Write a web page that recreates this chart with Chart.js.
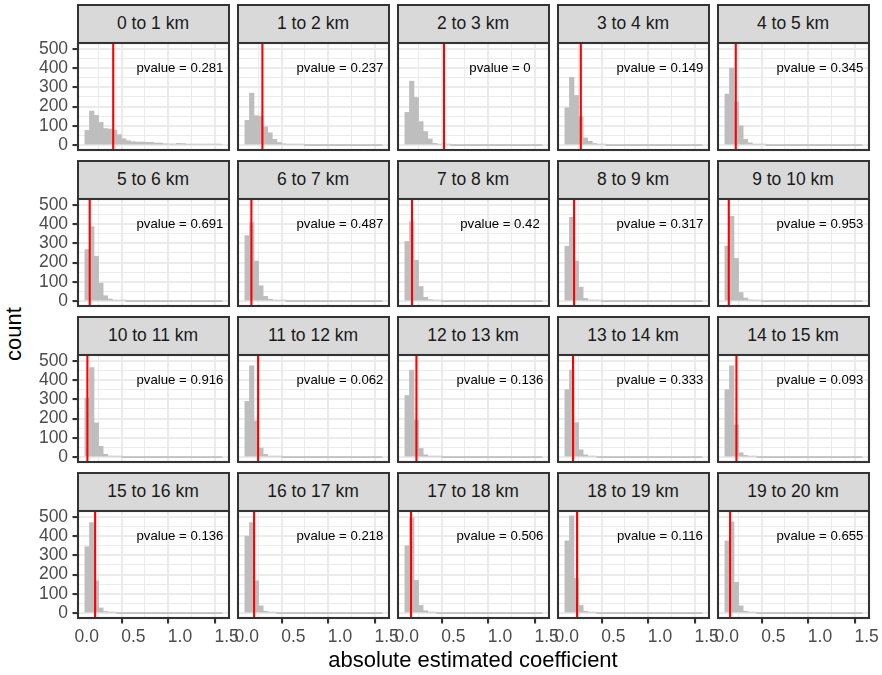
<!DOCTYPE html>
<html>
<head>
<meta charset="utf-8">
<script src="https://cdn.jsdelivr.net/npm/chart.js@4/dist/chart.umd.min.js"></script>
<style>
  body { margin: 0; background: #fff; }
  #fig { position: relative; width: 882px; height: 675px; overflow: hidden; background: #fff;
         font-family: "Liberation Sans", Arial, Helvetica, sans-serif; }
  .strip { position: absolute; box-sizing: border-box; background: #D9D9D9; border: 2px solid #333333;
           color: #1A1A1A; font-size: 17.5px; display: flex; align-items: center; justify-content: center; }
  canvas { position: absolute; }
  .axis-title { position: absolute; color: #000; font-size: 22px; white-space: nowrap; }
</style>
</head>
<body>
<div id="fig"></div>
<script>
// Facet labels (distance bands)
const distanceBands = ['0 to 1 km', '1 to 2 km', '2 to 3 km', '3 to 4 km', '4 to 5 km',
  '5 to 6 km', '6 to 7 km', '7 to 8 km', '8 to 9 km', '9 to 10 km',
  '10 to 11 km', '11 to 12 km', '12 to 13 km', '13 to 14 km', '14 to 15 km',
  '15 to 16 km', '16 to 17 km', '17 to 18 km', '18 to 19 km', '19 to 20 km'];

// Observed absolute coefficient per band (red line)
const observedCoef = [0.284, 0.168, 0.400, 0.151, 0.097,
  0.032, 0.050, 0.057, 0.079, 0.022,
  0.007, 0.122, 0.104, 0.068, 0.104,
  0.090, 0.079, 0.046, 0.111, 0.036];

// Permutation p-values per band
const pValues = [0.281, 0.237, 0, 0.149, 0.345,
  0.691, 0.487, 0.42, 0.317, 0.953,
  0.916, 0.062, 0.136, 0.333, 0.093,
  0.136, 0.218, 0.506, 0.116, 0.655];

// Histogram bins (30 bins of the permuted absolute coefficients)
const binStart = -0.020;
const binWidth = 0.04907;

// Counts per bin for each band
const km00_01 = [77,177,155,118,86,84,78,54,33,23,18,16,16,15,15,11,11,7,6,6,9,8,5,4,4,3,3,2,2,1];
const km01_02 = [129,270,153,150,95,64,30,14,7,4,2,1,1,0,0,0,0,0,0,0,0,0,0,0,0,0,0,0,0,0];
const km02_03 = [170,332,247,122,71,32,9,4,2,1,0,0,0,0,0,0,0,0,0,0,0,0,0,0,0,0,0,0,0,0];
const km03_04 = [194,352,258,148,38,20,8,3,1,0,0,0,0,0,0,0,0,0,0,0,0,0,0,0,0,0,0,0,0,0];
const km04_05 = [265,400,225,100,30,12,5,2,1,0,0,0,0,0,0,0,0,0,0,0,0,0,0,0,0,0,0,0,0,0];
const km05_06 = [268,387,233,93,28,11,5,2,1,0,0,0,0,0,0,0,0,0,0,0,0,0,0,0,0,0,0,0,0,0];
const km06_07 = [340,408,208,80,25,10,4,2,1,0,0,0,0,0,0,0,0,0,0,0,0,0,0,0,0,0,0,0,0,0];
const km07_08 = [310,412,212,76,20,8,3,1,0,0,0,0,0,0,0,0,0,0,0,0,0,0,0,0,0,0,0,0,0,0];
const km08_09 = [285,435,208,73,14,6,2,1,0,0,0,0,0,0,0,0,0,0,0,0,0,0,0,0,0,0,0,0,0,0];
const km09_10 = [286,440,222,45,16,7,3,1,0,0,0,0,0,0,0,0,0,0,0,0,0,0,0,0,0,0,0,0,0,0];
const km10_11 = [307,465,178,56,15,6,2,1,0,0,0,0,0,0,0,0,0,0,0,0,0,0,0,0,0,0,0,0,0,0];
const km11_12 = [290,474,188,47,14,5,2,1,0,0,0,0,0,0,0,0,0,0,0,0,0,0,0,0,0,0,0,0,0,0];
const km12_13 = [320,452,192,45,12,5,2,1,0,0,0,0,0,0,0,0,0,0,0,0,0,0,0,0,0,0,0,0,0,0];
const km13_14 = [350,452,179,38,12,4,1,0,0,0,0,0,0,0,0,0,0,0,0,0,0,0,0,0,0,0,0,0,0,0];
const km14_15 = [350,474,167,23,9,3,1,0,0,0,0,0,0,0,0,0,0,0,0,0,0,0,0,0,0,0,0,0,0,0];
const km15_16 = [345,470,168,27,8,3,1,0,0,0,0,0,0,0,0,0,0,0,0,0,0,0,0,0,0,0,0,0,0,0];
const km16_17 = [400,470,168,38,10,3,1,0,0,0,0,0,0,0,0,0,0,0,0,0,0,0,0,0,0,0,0,0,0,0];
const km17_18 = [350,495,170,40,12,4,1,0,0,0,0,0,0,0,0,0,0,0,0,0,0,0,0,0,0,0,0,0,0,0];
const km18_19 = [375,505,180,40,10,3,1,0,0,0,0,0,0,0,0,0,0,0,0,0,0,0,0,0,0,0,0,0,0,0];
const km19_20 = [375,474,160,38,10,3,1,0,0,0,0,0,0,0,0,0,0,0,0,0,0,0,0,0,0,0,0,0,0,0];

const bandCounts = [km00_01, km01_02, km02_03, km03_04, km04_05,
  km05_06, km06_07, km07_08, km08_09, km09_10,
  km10_11, km11_12, km12_13, km13_14, km14_15,
  km15_16, km16_17, km17_18, km18_19, km19_20];

// Axis breaks and labels
const xTickValues = [0, 0.5, 1.0, 1.5];
const xTickLabels = ['0.0', '0.5', '1.0', '1.5'];
const xMinorValues = [0.25, 0.75, 1.25];
const yTickValues = [0, 100, 200, 300, 400, 500];
const yTickLabels = ['0', '100', '200', '300', '400', '500'];
const yMinorValues = [50, 150, 250, 350, 450];

// Position of the p-value note in data units
const noteX = 1.0, noteY = 400;

// ---- derived scale limits (5% expansion like the shared facet scales) ----
const nBins = km00_01.length;
const binEnd = binStart + nBins * binWidth;
const binCenters = Array.from({length: nBins}, (_, k) => binStart + (k + 0.5) * binWidth);
const xPad = 0.05 * (binEnd - binStart);
const xMin = binStart - xPad, xMax = binEnd + xPad;
const maxCount = Math.max(...bandCounts.flat());
const yMin = -0.05 * maxCount, yMax = 1.05 * maxCount;

// ---- layout (pixels) ----
const colLeft = [77.5, 237.5, 397.5, 557.5, 717.5];
const rowTop = [5, 161, 317, 473];
const stripH = 37.5, PW = 151, PH = 107;
const L = 46, B = 34, T = 4, R = 16;
const FONT = '"Liberation Sans", Arial, Helvetica, sans-serif';
const LW = 2.1;

const fig = document.getElementById('fig');

const panelFrame = {
  id: 'panelFrame',
  afterDraw(chart) {
    const a = chart.chartArea, ctx = chart.ctx;
    ctx.save();
    ctx.strokeStyle = '#333333';
    ctx.lineWidth = LW;
    ctx.strokeRect(a.left, a.top, a.right - a.left, a.bottom - a.top);
    ctx.restore();
  }
};

const pvalueNote = {
  id: 'pvalueNote',
  afterDatasetsDraw(chart, args, opts) {
    const ctx = chart.ctx;
    const x = chart.scales.x.getPixelForValue(noteX);
    const y = chart.scales.y.getPixelForValue(noteY);
    ctx.save();
    ctx.fillStyle = '#000';
    ctx.font = '13.2px ' + FONT;
    ctx.textAlign = 'center';
    ctx.textBaseline = 'middle';
    ctx.fillText('pvalue = ' + String(opts.p), x, y);
    ctx.restore();
  }
};

function isMajor(list, v) { return list.some(t => Math.abs(t - v) < 1e-9); }

function makePanel(i) {
  const r = Math.floor(i / 5), c = i % 5;
  const isLeft = c === 0, isBottom = r === 3;

  const strip = document.createElement('div');
  strip.className = 'strip';
  strip.style.left = (colLeft[c] - 1) + 'px';
  strip.style.top = (rowTop[r] - 1) + 'px';
  strip.style.width = (PW + 2) + 'px';
  strip.style.height = (stripH + 2) + 'px';
  strip.textContent = distanceBands[i];
  fig.appendChild(strip);

  const panelTop = rowTop[r] + stripH;
  const cv = document.createElement('canvas');
  cv.width = L + PW + R;
  cv.height = T + PH + B;
  cv.style.left = (colLeft[c] - L) + 'px';
  cv.style.top = (panelTop - T) + 'px';
  fig.appendChild(cv);

  const counts = bandCounts[i];
  new Chart(cv, {
    type: 'bar',
    data: {
      datasets: [
        {
          type: 'line',
          data: [{x: observedCoef[i], y: yMin}, {x: observedCoef[i], y: yMax}],
          borderColor: '#FF0000', borderWidth: LW, pointRadius: 0, clip: 0, order: 0
        },
        {
          type: 'bar',
          data: counts.map((v, k) => ({x: binCenters[k], y: v})),
          backgroundColor: '#BEBEBE', borderWidth: 0,
          barPercentage: 1.0, categoryPercentage: 1.0, minBarLength: 1, order: 1
        }
      ]
    },
    options: {
      responsive: false, animation: false, events: [], devicePixelRatio: 1,
      layout: {padding: {top: T, right: R, left: 0, bottom: 0}},
      plugins: {legend: {display: false}, tooltip: {enabled: false}, pvalueNote: {p: pValues[i]}},
      scales: {
        x: {
          type: 'linear', min: xMin, max: xMax, offset: false,
          afterBuildTicks: s => { s.ticks = [...xTickValues, ...xMinorValues].sort((a, b) => a - b).map(v => ({value: v})); },
          afterFit: s => { s.height = B; s.paddingLeft = 0; s.paddingRight = 0; },
          ticks: {
            display: isBottom, autoSkip: false, maxRotation: 0, minRotation: 0, padding: 3,
            color: '#4D4D4D', font: {family: FONT, size: 17.5},
            callback: v => { const k = xTickValues.findIndex(t => Math.abs(t - v) < 1e-9); return k >= 0 ? xTickLabels[k] : ''; }
          },
          grid: {
            color: '#EBEBEB',
            lineWidth: ctx => (ctx.tick && isMajor(xTickValues, ctx.tick.value)) ? LW : LW / 2,
            drawTicks: isBottom, tickLength: 5.5, tickWidth: LW,
            tickColor: ctx => (ctx.tick && isMajor(xTickValues, ctx.tick.value)) ? '#333333' : 'rgba(0,0,0,0)'
          },
          border: {display: false}
        },
        y: {
          type: 'linear', min: yMin, max: yMax,
          afterBuildTicks: s => { s.ticks = [...yTickValues, ...yMinorValues].sort((a, b) => a - b).map(v => ({value: v})); },
          afterFit: s => { s.width = L; s.paddingTop = 0; s.paddingBottom = 0; },
          ticks: {
            display: isLeft, autoSkip: false, padding: 4.4,
            color: '#4D4D4D', font: {family: FONT, size: 17.5},
            callback: v => { const k = yTickValues.findIndex(t => Math.abs(t - v) < 1e-9); return k >= 0 ? yTickLabels[k] : ''; }
          },
          grid: {
            color: '#EBEBEB',
            lineWidth: ctx => (ctx.tick && isMajor(yTickValues, ctx.tick.value)) ? LW : LW / 2,
            drawTicks: isLeft, tickLength: 5.5, tickWidth: LW,
            tickColor: ctx => (ctx.tick && isMajor(yTickValues, ctx.tick.value)) ? '#333333' : 'rgba(0,0,0,0)'
          },
          border: {display: false}
        }
      }
    },
    plugins: [pvalueNote, panelFrame]
  });
}

for (let i = 0; i < distanceBands.length; i++) makePanel(i);

// Axis titles
const xt = document.createElement('div');
xt.className = 'axis-title';
xt.textContent = 'absolute estimated coefficient';
xt.style.left = '473px'; xt.style.top = '660px';
xt.style.transform = 'translate(-50%, -50%)';
fig.appendChild(xt);

const yt = document.createElement('div');
yt.className = 'axis-title';
yt.textContent = 'count';
yt.style.left = '14px'; yt.style.top = '334px';
yt.style.transform = 'translate(-50%, -50%) rotate(-90deg)';
fig.appendChild(yt);
</script>
</body>
</html>
